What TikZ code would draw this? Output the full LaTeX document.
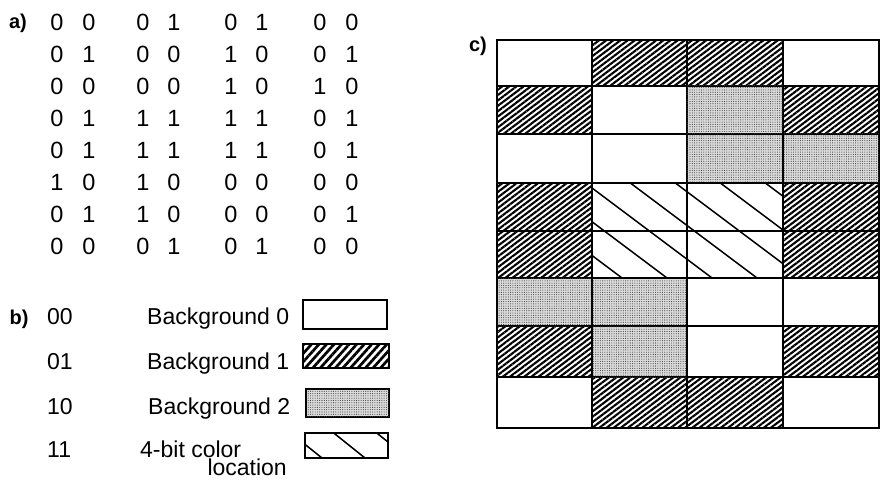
\documentclass[tikz,border=0pt]{standalone}
\usepackage{fontspec}
\setmainfont{Liberation Sans}
\usetikzlibrary{patterns,patterns.meta}
\begin{document}
\begin{tikzpicture}[x=1pt,y=-1pt,
  dig/.style={font=\fontsize{23.5}{27}\selectfont, inner sep=0pt, anchor=center},
  lbl/.style={font=\fontsize{23}{27}\selectfont, inner sep=0pt, anchor=base west},
  tag/.style={font=\fontsize{20}{24}\selectfont\bfseries, inner sep=0pt, anchor=center},
  cellW/.style={draw, line width=1.1pt, fill=white},
  cellH/.style={draw, line width=1.4pt, pattern={Lines[angle=37,distance=4.3pt,line width=2.1pt]}},
  cellS/.style={draw, line width=1.1pt, fill=black!14, postaction={pattern={Dots[distance=2.3pt,radius=0.55pt]}, pattern color=black!75}},
  cellX/.style={draw, line width=1.1pt, fill=white},
  lgH/.style={draw, line width=1.5pt, pattern={Lines[angle=48,distance=5.6pt,line width=2.7pt]}},
  xline/.style={line width=1.5pt, line cap=round}
]
\useasboundingbox (0,0) rectangle (889,481);

% ---- a) ----
\node[tag] (taga) at (18,23) {a)};
\foreach \rowlist [count=\r] in {{0,0,0,1,0,1,0,0},{0,1,0,0,1,0,0,1},{0,0,0,0,1,0,1,0},{0,1,1,1,1,1,0,1},{0,1,1,1,1,1,0,1},{1,0,1,0,0,0,0,0},{0,1,1,0,0,0,0,1},{0,0,0,1,0,1,0,0}}{
  \foreach \v [count=\c] in \rowlist {
    \pgfmathsetmacro\xx{{57,89,143,174,231,262,320,352}[\c-1]}
    \pgfmathsetmacro\yy{22+32*(\r-1)}
    \node[dig] (d-\r-\c) at (\xx,\yy) {\v};
  }
}

% ---- b) ----
\node[tag, anchor=base] (tagb) at (19,324) {b)};
\node[lbl] (c00) at (47,324) {00};
\node[lbl] (c01) at (47,369) {01};
\node[lbl] (c10) at (47,414) {10};
\node[lbl] (c11) at (47,457) {11};
\node[lbl] (t0) at (147,324) {Background 0};
\node[lbl] (t1) at (147,369) {Background 1};
\node[lbl] (t2) at (148,414) {Background 2};
\node[lbl] (t3) at (140,457) {4-bit color};
\node[lbl, anchor=base east] (t3b) at (287,475) {location};

\path[cellW, line width=1.5pt] (303,300) rectangle (387,329);
\path[lgH] (303,344) rectangle (389,368);
\path[cellS, line width=1.5pt] (306,389) rectangle (389,417);
\begin{scope}
  \clip (305,433) rectangle (388,458);
  \foreach \k in {0,1,2} {
    \pgfmathsetmacro\xo{322+43*\k}
    \draw[xline] (\xo-60,458-48) -- (\xo+10,458+8);
  }
\end{scope}
\draw[line width=1.5pt] (305,433) rectangle (388,458);

% ---- c) ----
\node[tag] (tagc) at (478,46) {c)};
\def\colx{{497,592,687,783,879}}
\def\rowy{{40,86,134,183,231,278,326,377,428}}
\foreach \typ/\cells in {W/{0/0,3/0,1/1,0/2,1/2,2/5,3/5,2/6,0/7,3/7},
                         H/{1/0,2/0,0/1,3/1,0/3,3/3,0/4,3/4,0/6,3/6,1/7,2/7},
                         S/{2/1,2/2,3/2,0/5,1/5,1/6},
                         X/{1/3,2/3,1/4,2/4}}{
  \foreach \c/\r in \cells {
    \pgfmathsetmacro\xa{\colx[\c]}
    \pgfmathsetmacro\xb{\colx[\c+1]}
    \pgfmathsetmacro\ya{\rowy[\r]}
    \pgfmathsetmacro\yb{\rowy[\r+1]}
    \if\typ W\path[cellW] (\xa,\ya) rectangle (\xb,\yb);\fi
    \if\typ H\path[cellH] (\xa,\ya) rectangle (\xb,\yb);\fi
    \if\typ S\path[cellS] (\xa,\ya) rectangle (\xb,\yb);\fi
    \if\typ X\path[cellX] (\xa,\ya) rectangle (\xb,\yb);\fi
  }
}
\begin{scope}
  \clip (592,183) rectangle (783,278);
  \foreach \k in {0,...,6} {
    \pgfmathsetmacro\xo{622+45*\k}
    \draw[xline] (\xo-200,278-150) -- (\xo+20,278+15);
  }
\end{scope}
\draw[line width=1.1pt] (592,183) rectangle (783,278);
\draw[line width=1.1pt] (592,231) -- (783,231);
\draw[line width=1.1pt] (687,183) -- (687,278);
\end{tikzpicture}
\end{document}
